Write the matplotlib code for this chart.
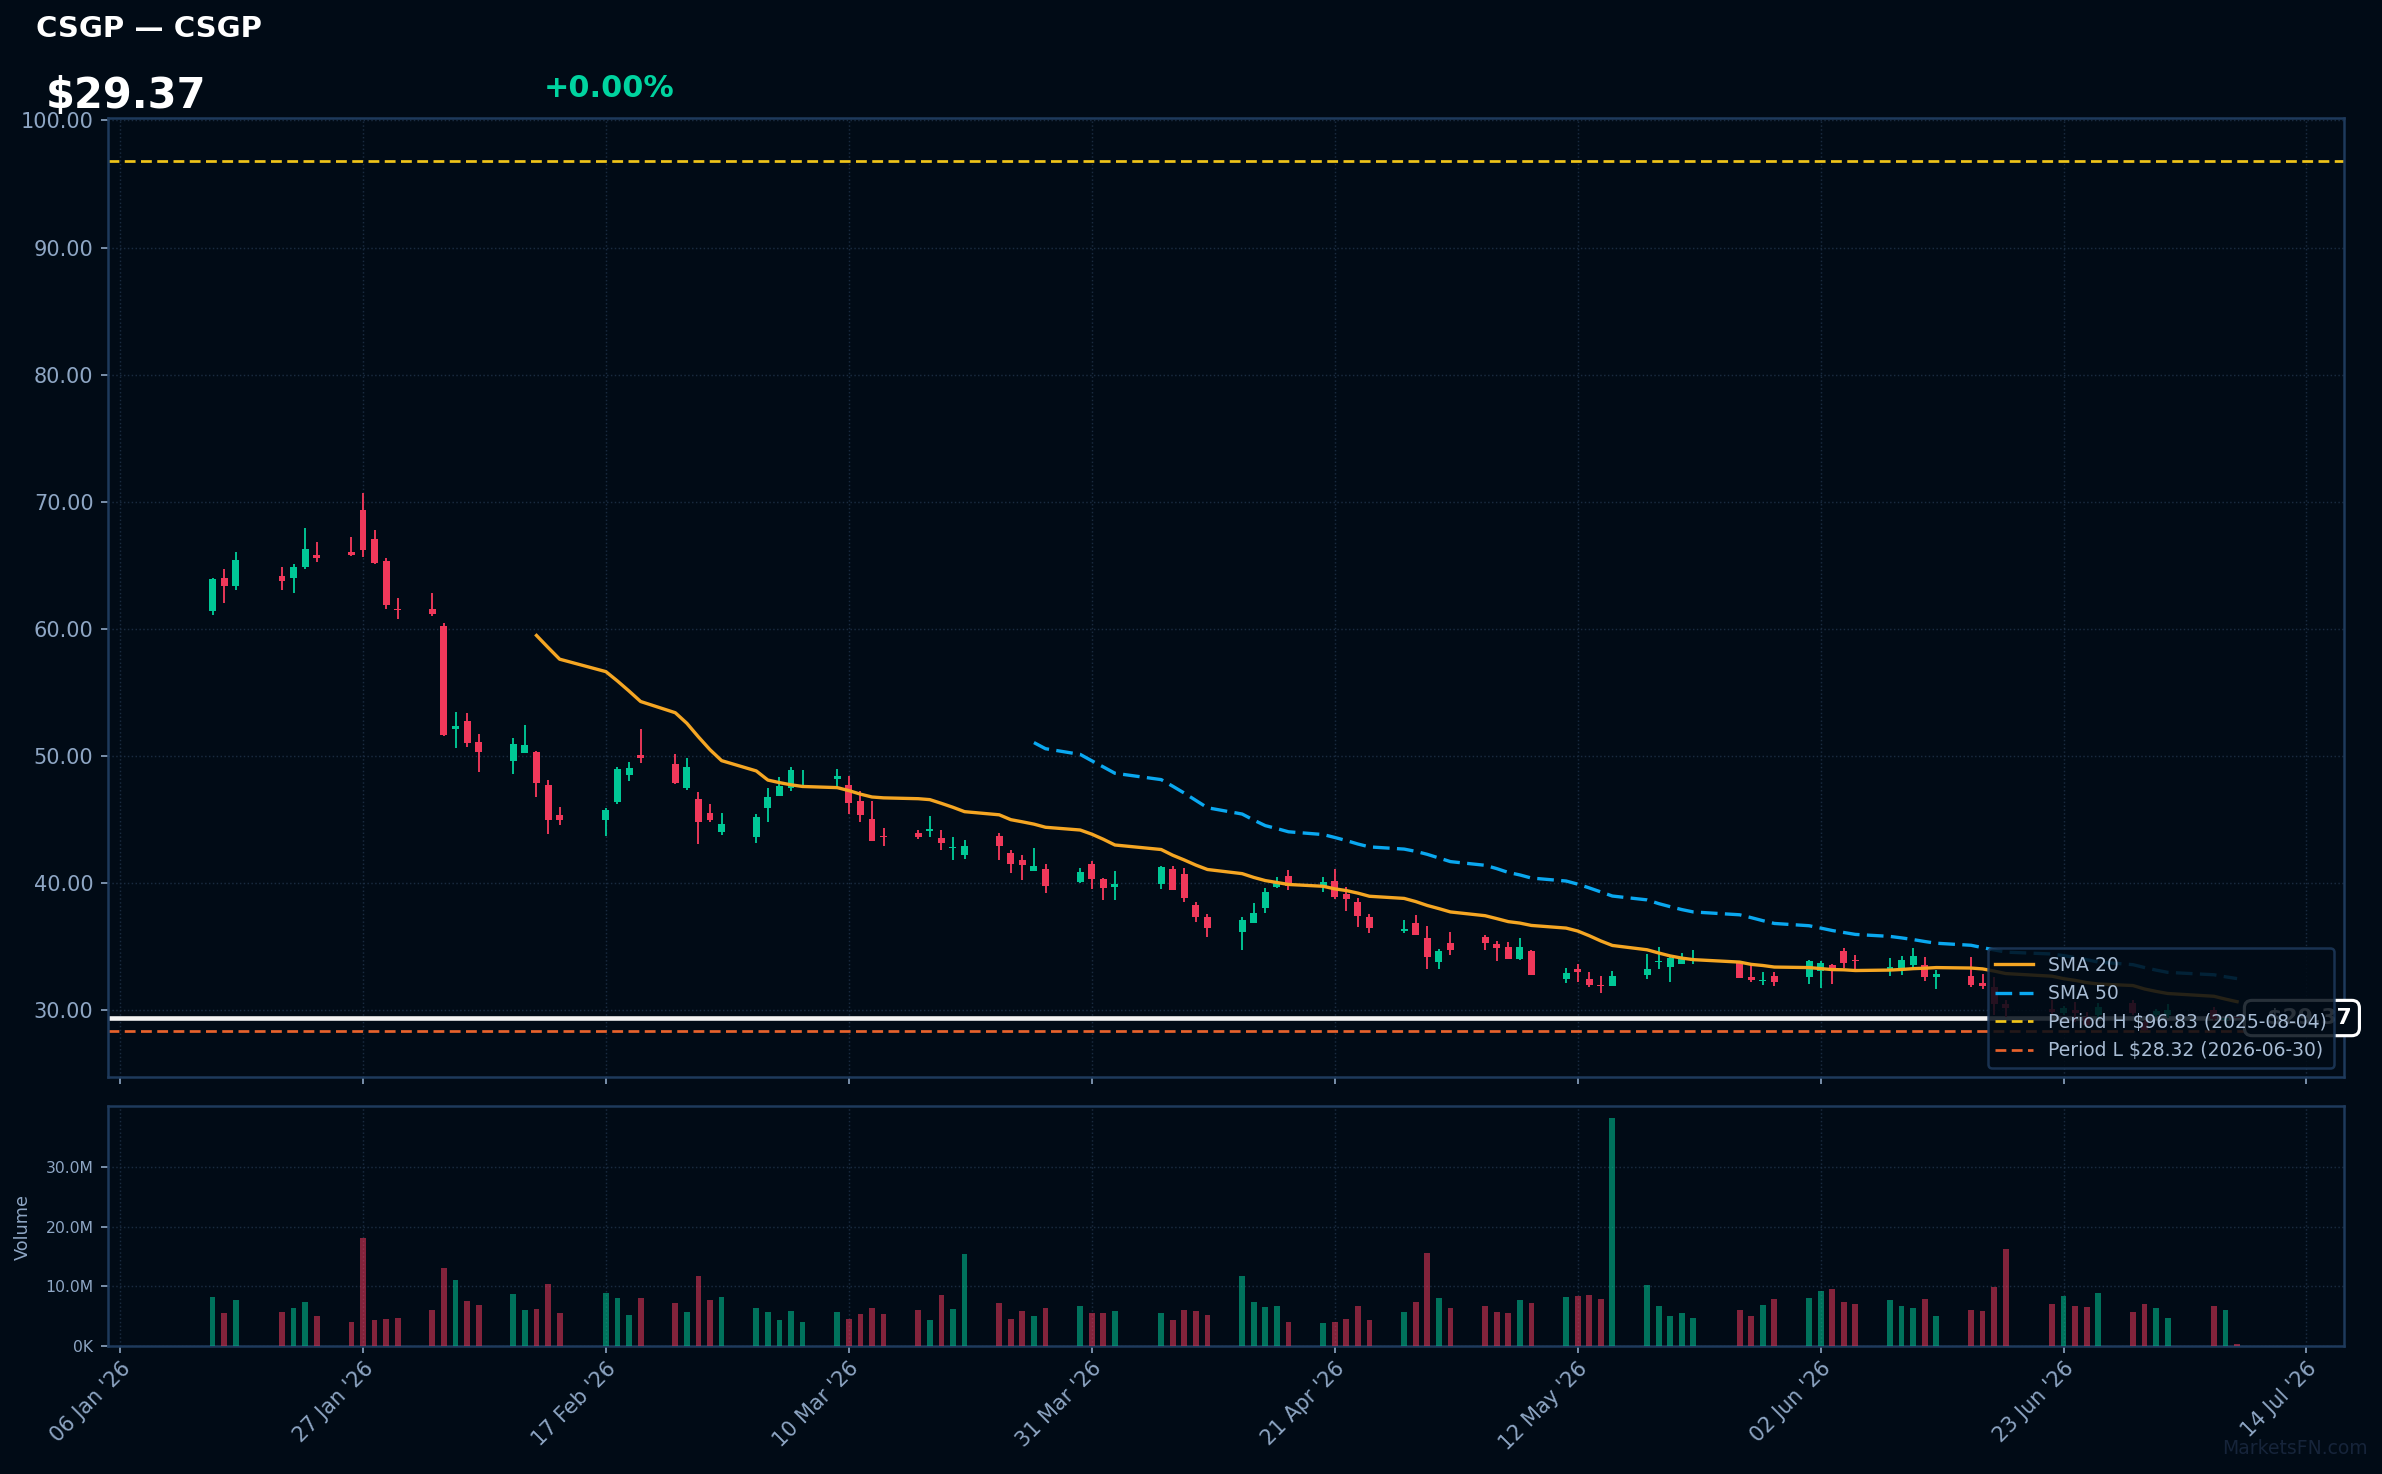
import matplotlib
matplotlib.use('Agg')
import matplotlib.pyplot as plt
import matplotlib.dates as mdates
import matplotlib.transforms as mtransforms
from matplotlib.ticker import FuncFormatter, FixedLocator
import numpy as np
import pandas as pd

# ---------------- data ----------------
holidays = ['2026-01-19', '2026-02-16', '2026-04-03', '2026-05-25', '2026-06-19', '2026-07-03']
dates = pd.bdate_range('2026-01-14', '2026-07-08')
dates = dates[~dates.isin(pd.to_datetime(holidays))]

opens = [61.38, 63.96, 63.35, 64.12, 63.96, 64.83, 65.77, 66.01, 69.32, 67.03,
         65.30, 61.52, 61.52, 60.18, 52.09, 52.77, 51.11, 49.56, 50.19, 50.33,
         47.73, 45.36, 44.92, 46.33, 48.46, 50.09, 49.38, 47.51, 46.64, 45.54,
         43.99, 43.60, 45.88, 46.82, 47.45, 48.30, 48.16, 47.74, 46.48, 45.07,
         43.70, 43.96, 44.09, 43.57, 42.73, 42.18, 43.73, 42.39, 41.84, 40.92,
         41.13, 40.11, 41.52, 40.34, 39.66, 39.89, 41.13, 40.74, 38.29, 37.35,
         36.11, 36.82, 38.00, 39.71, 40.58, 39.76, 40.18, 39.16, 38.53, 37.35,
         36.24, 36.88, 35.70, 33.75, 35.30, 35.77, 35.22, 34.99, 34.04, 34.67,
         32.41, 33.25, 32.47, 32.00, 31.86, 32.73, 33.75, 33.36, 33.60, 33.83,
         33.70, 32.62, 32.31, 32.70, 32.57, 33.04, 33.57, 34.67, 33.96, 33.15,
         33.15, 33.55, 33.55, 32.57, 32.68, 32.10, 31.79, 30.45, 30.05, 29.74,
         30.00, 29.47, 29.61, 30.58, 29.08, 29.60, 29.61, 30.00, 29.20, 29.37]
highs = [64.01, 64.67, 66.01, 64.90, 65.06, 67.90, 66.80, 67.19, 70.66, 67.74,
         65.53, 62.46, 62.78, 60.49, 53.48, 53.40, 51.74, 51.43, 52.45, 50.40,
         48.12, 45.99, 45.91, 49.15, 49.54, 52.14, 50.17, 49.86, 47.19, 46.25,
         45.54, 45.46, 47.48, 48.37, 49.13, 48.85, 49.00, 48.45, 47.24, 46.48,
         44.36, 44.20, 45.30, 44.20, 43.65, 43.41, 43.91, 42.60, 42.20, 42.76,
         41.50, 41.21, 41.76, 40.42, 40.97, 41.37, 41.37, 41.21, 38.50, 37.58,
         37.32, 38.42, 39.63, 40.50, 41.05, 40.45, 41.13, 39.68, 38.82, 37.56,
         37.11, 37.51, 36.64, 34.83, 36.17, 35.93, 35.46, 35.38, 35.70, 34.75,
         33.33, 33.65, 33.02, 32.70, 33.10, 34.44, 34.99, 34.15, 34.49, 34.75,
         33.70, 33.52, 33.02, 33.02, 33.96, 33.88, 33.65, 34.91, 34.36, 34.10,
         34.28, 34.90, 34.15, 33.15, 34.15, 32.84, 32.63, 30.79, 30.79, 30.32,
         30.66, 29.87, 30.53, 30.79, 29.20, 30.05, 30.45, 30.20, 29.60, 29.37]
lows = [61.07, 61.99, 63.09, 63.09, 62.78, 64.67, 65.22, 65.72, 65.64, 65.06,
        61.52, 60.73, 60.99, 51.53, 50.59, 50.67, 48.70, 48.54, 50.19, 46.73,
        43.89, 44.52, 43.73, 46.20, 47.99, 49.41, 47.75, 47.28, 43.10, 44.78,
        43.75, 43.12, 44.78, 46.82, 47.22, 47.74, 47.61, 45.46, 44.78, 43.28,
        42.89, 43.46, 43.60, 42.62, 41.78, 41.92, 41.78, 40.76, 40.26, 40.92,
        39.19, 40.03, 39.55, 38.63, 38.69, 39.55, 39.42, 38.48, 36.90, 35.72,
        34.69, 36.82, 37.61, 39.58, 39.47, 39.32, 38.71, 37.77, 36.51, 36.06,
        36.06, 35.88, 33.25, 33.25, 34.30, 34.70, 33.83, 34.02, 33.91, 32.73,
        32.10, 32.18, 31.78, 31.31, 31.86, 32.41, 33.25, 32.18, 33.60, 33.60,
        32.49, 32.18, 31.94, 31.86, 32.02, 31.71, 32.02, 33.28, 33.23, 32.65,
        32.78, 33.15, 32.31, 31.63, 31.84, 31.63, 29.61, 29.47, 29.61, 29.61,
        29.08, 28.69, 29.34, 29.61, 28.32, 29.47, 29.34, 29.10, 29.00, 29.37]
closes = [63.88, 63.35, 65.38, 63.75, 64.83, 66.24, 65.53, 65.77, 66.19, 65.14,
          61.86, 61.44, 61.15, 51.67, 52.37, 50.98, 50.27, 50.96, 50.88, 47.83,
          44.99, 44.92, 45.75, 48.99, 49.06, 49.80, 47.83, 49.14, 44.78, 44.99,
          44.67, 45.22, 46.80, 47.66, 48.92, 48.36, 48.45, 46.27, 45.33, 43.33,
          43.62, 43.60, 44.28, 43.12, 42.86, 42.94, 42.89, 41.47, 41.39, 41.36,
          39.74, 40.89, 40.29, 39.58, 39.95, 41.23, 39.42, 38.79, 37.29, 36.43,
          37.11, 37.64, 39.32, 40.11, 39.79, 40.05, 38.87, 38.74, 37.37, 36.43,
          36.34, 35.93, 34.15, 34.65, 34.70, 35.30, 34.86, 34.04, 34.99, 32.73,
          32.94, 33.02, 31.94, 31.86, 32.70, 33.25, 33.83, 34.07, 33.99, 33.99,
          32.49, 32.34, 32.39, 32.18, 33.88, 33.73, 33.31, 33.67, 33.86, 33.42,
          33.95, 34.27, 32.63, 32.84, 31.97, 31.89, 30.45, 30.13, 29.84, 30.18,
          29.74, 28.82, 30.21, 29.74, 28.45, 29.95, 30.00, 29.30, 29.37, 29.37]
volumes_m = [8.2, 5.5, 7.7, 5.7, 6.3, 7.4, 5.0, 4.0, 18.1, 4.3,
             4.5, 4.7, 6.0, 13.1, 11.1, 7.5, 6.9, 8.7, 6.0, 6.2,
             10.4, 5.5, 8.9, 8.0, 5.2, 8.0, 7.2, 5.7, 11.7, 7.7,
             8.2, 6.3, 5.7, 4.3, 5.8, 4.0, 5.7, 4.5, 5.3, 6.3,
             5.3, 6.0, 4.3, 8.5, 6.2, 15.4, 7.2, 4.5, 5.8, 5.0,
             6.3, 6.7, 5.5, 5.5, 5.8, 5.5, 4.3, 6.0, 5.8, 5.2,
             11.7, 7.4, 6.5, 6.7, 4.0, 3.8, 4.0, 4.5, 6.7, 4.3,
             5.7, 7.4, 15.6, 8.0, 6.3, 6.7, 5.7, 5.5, 7.7, 7.2,
             8.2, 8.4, 8.5, 7.9, 38.4, 10.2, 6.7, 5.0, 5.5, 4.7,
             6.0, 5.0, 6.9, 7.9, 8.0, 9.2, 9.6, 7.4, 7.0, 7.7,
             6.7, 6.3, 7.9, 5.0, 6.0, 5.8, 9.9, 16.3, 7.0, 8.4,
             6.7, 6.5, 8.9, 5.7, 7.0, 6.3, 4.7, 6.7, 6.0, 0.3]

ticker = 'CSGP'
last_price = 29.37
change_pct = 0.00
period_high = 96.83
period_high_date = '2025-08-04'
period_low = 28.32
period_low_date = '2026-06-30'
tick_dates = pd.date_range('2026-01-06', periods=10, freq='21D')

# ---------------- style ----------------
BG = '#010b16'
UP = '#00c896'
DOWN = '#f0385a'
SPINE = '#1e3a5c'
TXT = '#8ea6c4'
GRID = '#1a2b40'

W, H, DPI = 2382, 1474, 150
fig = plt.figure(figsize=(W / DPI, H / DPI), dpi=DPI, facecolor=BG)
ax = fig.add_axes([0.04534, 0.26934, 0.93850, 0.65041], facecolor=BG)
axv = fig.add_axes([0.04534, 0.08704, 0.93850, 0.16282], facecolor=BG, sharex=ax)

x = mdates.date2num(dates.to_pydatetime())
o = np.array(opens); h = np.array(highs); l = np.array(lows); c = np.array(closes)
up = c > o
cols = np.where(up, UP, DOWN)

# candles
ax.vlines(x, l, h, colors=cols, linewidth=0.9, zorder=3)
body_h = np.maximum(np.abs(c - o), 0.07)
ax.bar(x, body_h, bottom=np.minimum(o, c), width=0.6, color=cols, linewidth=0, zorder=3)

# SMAs
s = pd.Series(closes)
ax.plot(x, s.rolling(20).mean(), color='#f5a623', lw=1.6, label='SMA 20', zorder=4)
ax.plot(x, s.rolling(50).mean(), color='#0aa8f0', lw=1.6, ls=(0, (5, 2.2)), label='SMA 50', zorder=4)

# period lines
ax.axhline(period_high, color='#f0c419', lw=1.3, ls=(0, (4, 2)),
           label=f'Period H ${period_high:.2f} ({period_high_date})', zorder=2)
ax.axhline(period_low, color='#e8622c', lw=1.3, ls=(0, (4, 2)),
           label=f'Period L ${period_low:.2f} ({period_low_date})', zorder=2)
ax.axhline(last_price, color='#f2f2f2', lw=2.2, zorder=2)

ax.set_ylim(24.73, 100.17)
xmin = mdates.date2num(pd.Timestamp('2026-01-06')) - 1.04
xmax = mdates.date2num(pd.Timestamp('2026-01-06')) + 192.2
ax.set_xlim(xmin, xmax)
ax.yaxis.set_major_locator(FixedLocator(np.arange(30, 101, 10)))
ax.yaxis.set_major_formatter(FuncFormatter(lambda v, p: f'{v:.2f}'))

# price label box
tr = mtransforms.blended_transform_factory(ax.transAxes, ax.transData)
ax.text(1.0037, last_price, f'  ${last_price:.2f}', transform=tr, ha='right', va='center',
        fontsize=10.5, fontweight='bold', color='white', clip_on=False, zorder=4,
        bbox=dict(boxstyle='round,pad=0.35', fc=BG, ec='white', lw=1.5))

leg = ax.legend(loc='lower right', fontsize=9, facecolor=BG, edgecolor=SPINE,
                framealpha=0.85, labelcolor='#a8bcd4', borderaxespad=0.5)
leg.set_zorder(10)
leg.get_frame().set_linewidth(1.2)

# volume
vcols = np.where(up, UP, DOWN)
axv.bar(x, np.array(volumes_m) * 1e6, width=0.5, color=vcols, alpha=0.55, linewidth=0, zorder=3)
axv.set_ylim(0, 40.4e6)
axv.yaxis.set_major_locator(FixedLocator([0, 10e6, 20e6, 30e6]))
axv.yaxis.set_major_formatter(FuncFormatter(lambda v, p: '0K' if v == 0 else f'{v/1e6:.1f}M'))

# x ticks
tick_nums = mdates.date2num(tick_dates.to_pydatetime())
axv.xaxis.set_major_locator(FixedLocator(tick_nums))
axv.xaxis.set_major_formatter(mdates.DateFormatter("%d %b '%y"))

for a in (ax, axv):
    for sp in a.spines.values():
        sp.set_color(SPINE)
        sp.set_linewidth(1.2)
    a.grid(True, color=GRID, ls=':', lw=0.7, zorder=0)
    a.set_axisbelow(True)
    a.tick_params(colors=TXT, length=3.5, width=0.8)
ax.tick_params(axis='y', labelsize=10)
ax.tick_params(axis='x', labelbottom=False)
axv.tick_params(axis='y', labelsize=7.5)
axv.tick_params(axis='x', labelsize=10, pad=2.5)
for lab in axv.get_xticklabels():
    lab.set_rotation(45)
    lab.set_ha('right')
    lab.set_rotation_mode('anchor')

fig.text(23.3 / W, 1 - 1227 / H, 'Volume', rotation=90, color=TXT, fontsize=8.5, ha='center', va='center')

# header
fig.text(36.5 / W, 1 - 37.3 / H, f'{ticker} — {ticker}', color='white', fontsize=14,
         fontweight='bold', ha='left', va='baseline')
fig.text(45.5 / W, 1 - 108 / H, f'${last_price:.2f}', color='white', fontsize=20,
         fontweight='bold', ha='left', va='baseline')
fig.text(544 / W, 1 - 97.3 / H, f'+{change_pct:.2f}%', color='#00d4a0', fontsize=14.5,
         fontweight='bold', ha='left', va='baseline')
fig.text(0.994, 1 - 1448 / H, 'MarketsFN.com', color='#16243a', fontsize=9, ha='right', va='center')

fig.savefig('out.png', dpi=DPI, facecolor=BG)
